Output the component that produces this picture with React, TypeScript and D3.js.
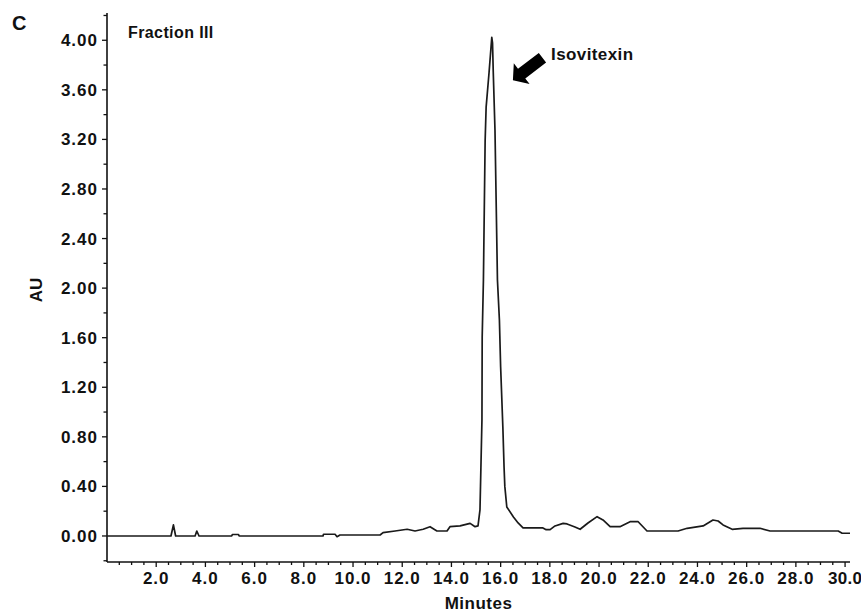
import React, { useEffect } from 'react';
import * as d3 from 'd3';

const W = 861;
const H = 614;

// Chromatogram trace (retention time in minutes, absorbance in AU)
const times = [
  0, 2.6, 2.7, 2.79, 3.58, 3.65, 3.74, 5.07, 5.1, 5.34, 5.37, 8.78, 8.8, 9.27, 9.35, 9.47,
  11.1, 11.22, 11.71, 12.2, 12.52, 12.85, 13.13, 13.41, 13.82, 13.94, 14.35, 14.76, 14.96,
  15.08, 15.16, 15.24, 15.25, 15.3, 15.37, 15.41, 15.53, 15.64, 15.67, 15.7, 15.77, 15.87,
  15.95, 16.0, 16.09, 16.14, 16.17, 16.25, 16.52, 16.71, 16.91, 17.72, 17.85, 18.01, 18.21,
  18.54, 18.7, 19.02, 19.23, 19.55, 19.92, 20.16, 20.45, 20.85, 21.26, 21.59, 21.95, 23.21,
  23.58, 24.23, 24.63, 24.84, 25.04, 25.41, 25.85, 26.54, 26.95, 29.72, 29.88, 30.2,
];
const absorbance = [
  0, 0, 0.089, 0, 0, 0.04, 0, 0, 0.012, 0.012, 0, 0, 0.014, 0.014, -0.006, 0.008,
  0.008, 0.027, 0.04, 0.054, 0.04, 0.054, 0.075, 0.04, 0.04, 0.075, 0.081, 0.102, 0.075,
  0.081, 0.21, 0.935, 1.605, 2.065, 3.194, 3.46, 3.742, 4.024, 3.98, 3.742, 3.274, 2.065,
  1.742, 1.363, 0.879, 0.55, 0.4, 0.234, 0.153, 0.105, 0.065, 0.065, 0.051, 0.051, 0.081,
  0.102, 0.097, 0.073, 0.054, 0.105, 0.156, 0.129, 0.075, 0.075, 0.115, 0.115, 0.04, 0.04,
  0.062, 0.081, 0.129, 0.121, 0.089, 0.054, 0.062, 0.062, 0.04, 0.04, 0.022, 0.022,
];

const yMajorTicks = [0, 0.4, 0.8, 1.2, 1.6, 2.0, 2.4, 2.8, 3.2, 3.6, 4.0];
const yTickLabels = ['0.00', '0.40', '0.80', '1.20', '1.60', '2.00', '2.40', '2.80', '3.20', '3.60', '4.00'];
const xMajorTicks = [2, 4, 6, 8, 10, 12, 14, 16, 18, 20, 22, 24, 26, 28, 30];
const xTickLabels = ['2.0', '4.0', '6.0', '8.0', '10.0', '12.0', '14.0', '16.0', '18.0', '20.0', '22.0', '24.0', '26.0', '28.0', '30.0'];

const panelLabel = 'C';
const fractionLabel = 'Fraction III';
const peakLabel = 'Isovitexin';
const xTitle = 'Minutes';
const yTitle = 'AU';

// annotation arrow (data coordinates: minutes, AU)
const arrowTip = [16.5, 3.677];
const arrowTail = [17.7, 3.859];
const peakLabelPos = [18.05, 3.84];

const FONT = '"Liberation Sans", Arial, Helvetica, sans-serif';

export default function App() {
  useEffect(() => {
    document.body.style.margin = '0';
  }, []);

  const x = d3.scaleLinear().domain([0, 30.2]).range([107, 850]);
  const y = d3.scaleLinear().domain([-0.21, 4.22]).range([562, 13]);

  const data = times.map((t, i) => [t, absorbance[i]] as [number, number]);
  const line = d3
    .line<[number, number]>()
    .x((d) => x(d[0]))
    .y((d) => y(d[1]))
    .curve(d3.curveLinear);

  const xMinor = d3.range(0.5, 30.01, 0.5).filter((v) => Math.abs(v / 2 - Math.round(v / 2)) > 1e-6);
  const yMinor = d3.range(-0.2, 4.21, 0.2).map((v) => Math.round(v * 100) / 100)
    .filter((v) => Math.abs(v / 0.4 - Math.round(v / 0.4)) > 1e-6);

  // arrow polygon in pixel space
  const P = [x(arrowTip[0]), y(arrowTip[1])];
  const T = [x(arrowTail[0]), y(arrowTail[1])];
  const dx = T[0] - P[0];
  const dy = T[1] - P[1];
  const len = Math.hypot(dx, dy);
  const u = [dx / len, dy / len];
  const n = [-u[1], u[0]];
  const headLen = 11;
  const headHW = 13;
  const shaftHW = 6;
  const B = [P[0] + u[0] * headLen, P[1] + u[1] * headLen];
  const pts = [
    P,
    [B[0] + n[0] * headHW, B[1] + n[1] * headHW],
    [B[0] + n[0] * shaftHW, B[1] + n[1] * shaftHW],
    [T[0] + n[0] * shaftHW, T[1] + n[1] * shaftHW],
    [T[0] - n[0] * shaftHW, T[1] - n[1] * shaftHW],
    [B[0] - n[0] * shaftHW, B[1] - n[1] * shaftHW],
    [B[0] - n[0] * headHW, B[1] - n[1] * headHW],
  ];
  const arrowPath = 'M' + pts.map((p) => p[0].toFixed(1) + ',' + p[1].toFixed(1)).join('L') + 'Z';

  const axisX0 = x(0);
  const axisY0 = y.range()[0];

  return (
    <svg
      width={W}
      height={H}
      viewBox={`0 0 ${W} ${H}`}
      style={{ display: 'block', position: 'absolute', left: 0, top: 0, background: '#fff' }}
      fontFamily={FONT}
      fontWeight="bold"
    >
      <rect x={0} y={0} width={W} height={H} fill="#fff" />

      {/* axes */}
      <line x1={axisX0} x2={axisX0} y1={y.range()[1]} y2={axisY0} stroke="#111" strokeWidth={1.6} />
      <line x1={axisX0} x2={x.range()[1]} y1={axisY0} y2={axisY0} stroke="#111" strokeWidth={1.6} />

      {/* y ticks */}
      {yMinor.map((v) => (
        <line key={'ym' + v} x1={axisX0 - 3.5} x2={axisX0} y1={y(v)} y2={y(v)} stroke="#111" strokeWidth={1.3} />
      ))}
      {yMajorTicks.map((v, i) => (
        <g key={'yM' + v}>
          <line x1={axisX0 - 5} x2={axisX0} y1={y(v)} y2={y(v)} stroke="#111" strokeWidth={1.3} />
          <text x={98} y={y(v) + 6} textAnchor="end" fontSize={17} letterSpacing={1} fill="#111">
            {yTickLabels[i]}
          </text>
        </g>
      ))}

      {/* x ticks */}
      {xMinor.map((v) => (
        <line key={'xm' + v} x1={x(v)} x2={x(v)} y1={axisY0} y2={axisY0 + 3} stroke="#111" strokeWidth={1.3} />
      ))}
      {xMajorTicks.map((v, i) => (
        <g key={'xM' + v}>
          <line x1={x(v)} x2={x(v)} y1={axisY0} y2={axisY0 + 5} stroke="#111" strokeWidth={1.3} />
          <text x={x(v)} y={583.5} textAnchor="middle" fontSize={17} letterSpacing={v === 30 ? 0.3 : 1} fill="#111">
            {xTickLabels[i]}
          </text>
        </g>
      ))}

      {/* trace */}
      <path d={line(data) || ''} fill="none" stroke="#1a1a1a" strokeWidth={1.7} strokeLinejoin="round" />

      {/* annotation */}
      <path d={arrowPath} fill="#000" />
      <text x={x(peakLabelPos[0])} y={y(peakLabelPos[1])} fontSize={17} letterSpacing={0.4} fill="#111">
        {peakLabel}
      </text>

      {/* labels */}
      <text x={12} y={30} fontSize={20} fill="#111">{panelLabel}</text>
      <text x={128} y={38} fontSize={16} letterSpacing={0.4} fill="#111">{fractionLabel}</text>
      <text x={(axisX0 + x.range()[1]) / 2} y={609} textAnchor="middle" fontSize={17} letterSpacing={0.5} fill="#111">
        {xTitle}
      </text>
      <text
        transform={`translate(42, 290) rotate(-90)`}
        textAnchor="middle"
        fontSize={17}
        fill="#111"
      >
        {yTitle}
      </text>
    </svg>
  );
}
